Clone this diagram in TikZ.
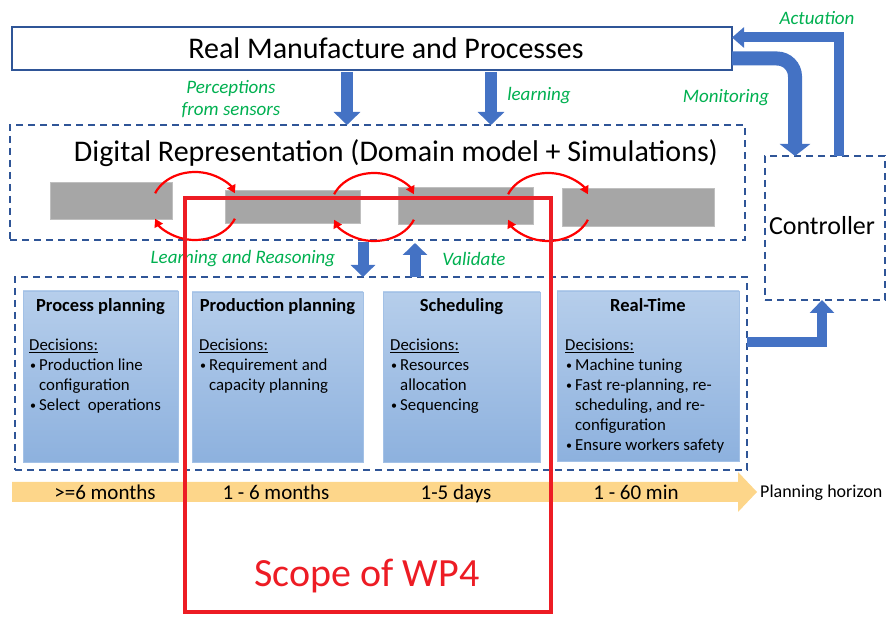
\documentclass[tikz,border=0pt]{standalone}
\usepackage{fontspec}
\setmainfont{Carlito}
\usetikzlibrary{arrows.meta}

\definecolor{frameblue}{HTML}{2F5597}
\definecolor{arrowblue}{HTML}{4472C4}
\definecolor{labelgreen}{HTML}{00B050}
\definecolor{scopered}{HTML}{ED1C24}
\definecolor{simgray}{HTML}{A6A6A6}
\definecolor{boxtop}{HTML}{B6CEEB}
\definecolor{boxbot}{HTML}{8DB1DE}
\definecolor{boxedge}{HTML}{A3C1E6}
\definecolor{horizon}{HTML}{FDD68A}

\newcommand{\fs}[2]{\fontsize{#1}{#2}\selectfont}
\newcommand{\bul}{\makebox[10pt][l]{\hspace{1pt}\raisebox{1.2pt}{\fs{12}{12}\textbullet}}}
\newcommand{\cont}{\hspace*{10pt}}

\begin{document}
\begin{tikzpicture}[x=1pt,y=-1pt,
  plainbox/.style={draw=frameblue, line width=1.8pt, fill=white, inner sep=0pt, outer sep=0pt, anchor=north west},
  dashbox/.style={draw=frameblue, line width=1.6pt, dash pattern=on 7pt off 5pt, inner sep=0pt, outer sep=0pt, anchor=north west},
  decbox/.style={top color=boxtop, bottom color=boxbot, draw=boxedge, line width=0.8pt, inner sep=0pt, outer sep=0pt, anchor=north west},
  simbox/.style={fill=simgray, draw=gray!50, line width=0.4pt, inner sep=0pt, outer sep=0pt, anchor=north west},
  boxtitle/.style={font=\bfseries\fs{18.5}{21}, inner sep=0pt, anchor=base},
  boxbody/.style={font=\fs{16.8}{20}, align=left, inner sep=0pt, anchor=north west},
  greenlabel/.style={font=\itshape\fs{19}{22}, text=labelgreen, inner sep=0pt, align=center},
  blockarrow/.style={draw=arrowblue, line width=12pt, -{Triangle[length=13pt,width=26pt]}},
  loopup/.style={draw=red, line width=2.2pt, -{Triangle[length=8pt,width=9pt]}},
  spanlabel/.style={font=\fs{21}{24}, inner sep=0pt, anchor=base}
]
\useasboundingbox (0,0) rectangle (887,617);

% physical system
\node[plainbox, minimum width=720pt, minimum height=43pt] (real) at (12,27) {};
\node[font=\fs{30}{34}, inner sep=0pt] at (386,48) {Real Manufacture and Processes};

% digital twin layer
\node[dashbox, minimum width=735pt, minimum height=115pt] (digital) at (10,125) {};
\node[font=\fs{30}{34}, inner sep=0pt] at (396,153) {Digital Representation (Domain model + Simulations)};

\node[simbox, minimum width=122pt, minimum height=37pt] (s1) at (50,182) {};
\node[simbox, minimum width=135pt, minimum height=33pt] (s2) at (225,190) {};
\node[simbox, minimum width=135pt, minimum height=37pt] (s3) at (398,187) {};
\node[simbox, minimum width=152pt, minimum height=38pt] (s4) at (562,188) {};

% controller
\node[dashbox, minimum width=120pt, minimum height=144pt] (ctrl) at (765,156) {};
\node[font=\fs{26}{30}, inner sep=0pt] at (822,226) {Controller};

% decision layer
\node[dashbox, minimum width=732pt, minimum height=193pt] (decide) at (15,277) {};

\node[decbox, minimum width=155pt, minimum height=171pt] (pp) at (23,291) {};
\node[decbox, minimum width=171pt, minimum height=170pt] (prod) at (192,292) {};
\node[decbox, minimum width=157pt, minimum height=170pt] (sched) at (383,292) {};
\node[decbox, minimum width=182pt, minimum height=170pt] (rt) at (557,291) {};

\node[boxtitle] at (pp.north |- 0,312) {Process planning};
\node[boxtitle] at (prod.north |- 0,312) {Production planning};
\node[boxtitle] at (sched.north |- 0,312) {Scheduling};
\node[boxtitle] at (rt.north |- 0,312) {Real-Time};

\node[boxbody] at (29,339) {\underline{Decisions:}\\
  \bul Production line\\ \cont configuration\\ \bul Select\ \ operations};
\node[boxbody] at (199,339) {\underline{Decisions:}\\
  \bul Requirement and\\ \cont capacity planning};
\node[boxbody] at (390,339) {\underline{Decisions:}\\
  \bul Resources\\ \cont allocation\\ \bul Sequencing};
\node[boxbody] at (565,339) {\underline{Decisions:}\\
  \bul Machine tuning\\ \bul Fast re-planning, re-\\ \cont scheduling, and re-\\ \cont configuration\\ \bul Ensure workers safety};

% red feedback loops between the simulation blocks
\foreach \cx/\cy in {195/206, 374/207, 548/207}{
  \draw[loopup] (\cx,\cy) ++(202:43 and 34) arc[start angle=202, end angle=338, x radius=43, y radius=34];
  \draw[loopup] (\cx,\cy) ++(22:43 and 34) arc[start angle=22, end angle=158, x radius=43, y radius=34];
}

% sensing arrows
\coordinate (px1) at (347,0);
\coordinate (px2) at (491,0);
\draw[blockarrow] (real.south -| px1) ++(0,2) -- (digital.north -| px1);
\draw[blockarrow] (real.south -| px2) ++(0,2) -- (digital.north -| px2);
\node[greenlabel] at (231,99) {Perceptions\\from sensors};
\node[greenlabel] at (539,96) {learning};

% reasoning / validation arrows
\coordinate (lx) at (363,0);
\coordinate (vx) at (415,0);
\draw[blockarrow, line width=11pt, -{Triangle[length=12pt,width=24pt]}] (digital.south -| lx) ++(0,2) -- (decide.north -| lx);
\draw[blockarrow, line width=11pt, -{Triangle[length=12pt,width=24pt]}] (decide.north -| vx) -- ([yshift=-3pt]digital.south -| vx);
\node[greenlabel] at (243,259) {Learning and Reasoning};
\node[greenlabel] at (474,259) {Validate};

% control loop
\coordinate (mx) at (795,0);
\coordinate (ax) at (839,0);
\draw[blockarrow, line width=14pt, rounded corners=18pt, -{Triangle[length=12pt,width=30pt]}]
  ([yshift=-10pt]real.east) -| (ctrl.north -| mx);
\draw[blockarrow, line width=10pt, -{Triangle[length=12pt,width=20pt]}]
  (ctrl.north -| ax) |- ([yshift=11pt]real.east);
\node[greenlabel] at (817,18) {Actuation};
\node[greenlabel] at (726,98) {Monitoring};

\coordinate (rx) at (822,0);
\coordinate (ry) at (0,342);
\draw[blockarrow, line width=10pt, -{Triangle[length=13pt,width=24pt]}]
  (decide.east |- ry) -| (ctrl.south -| rx);

% planning horizon
\fill[horizon] (12,482) -- (738,482) -- (738,472) -- (757,492) -- (738,512) -- (738,502) -- (12,502) -- cycle;
\node[spanlabel] at (105,500) {>=6 months};
\node[spanlabel] at (276,500) {1 - 6 months};
\node[spanlabel] at (456,500) {1-5 days};
\node[spanlabel] at (636,500) {1 - 60 min};
\node[font=\fs{18}{20}, inner sep=0pt, anchor=base west] at (760,498) {Planning horizon};

% work package scope
\draw[scopered, line width=4pt] (185,198) rectangle (551,612);
\node[font=\fs{40}{44}, text=scopered, inner sep=0pt] at (367,576) {Scope of WP4};
\end{tikzpicture}
\end{document}
